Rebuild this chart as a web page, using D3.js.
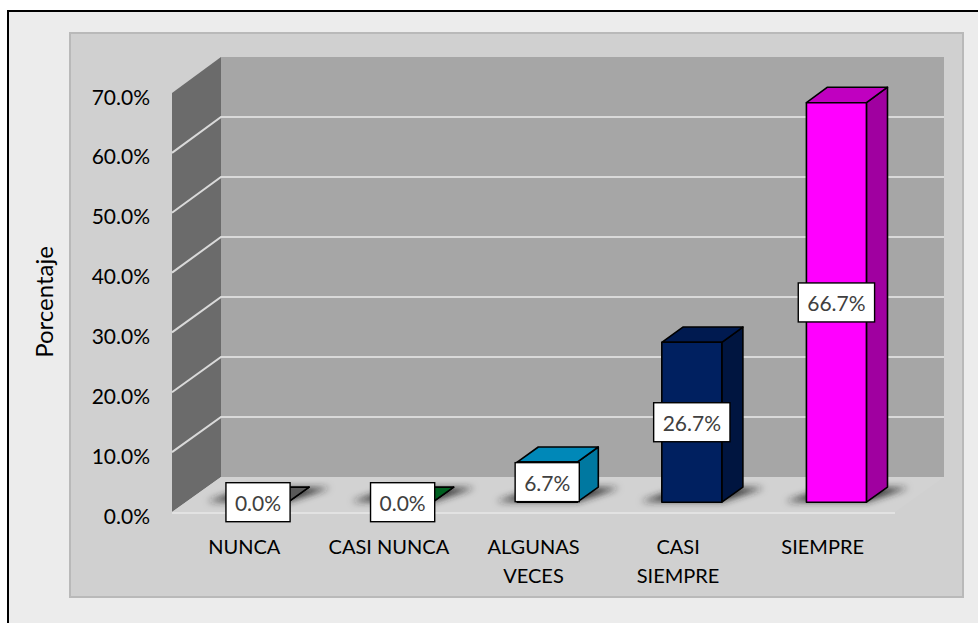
<!DOCTYPE html>
<html>
<head>
<meta charset="utf-8">
<script src="https://cdn.jsdelivr.net/npm/d3@7/dist/d3.min.js"></script>
<style>
  html, body { margin: 0; padding: 0; background: #ffffff; }
  svg { display: block; }
  text { font-family: Lato, "Noto Sans", sans-serif; }
</style>
</head>
<body>
<script>
// Survey response shares, percent of respondents
const categories = ["NUNCA", "CASI NUNCA", "ALGUNAS VECES", "CASI SIEMPRE", "SIEMPRE"];
const categoryLines = [["NUNCA"], ["CASI NUNCA"], ["ALGUNAS", "VECES"], ["CASI", "SIEMPRE"], ["SIEMPRE"]];
const values = [0.0, 0.0, 6.7, 26.7, 66.7];
const yTicks = [0, 10, 20, 30, 40, 50, 60, 70];
const axisTitle = "Porcentaje";

// Face colours of each 3D column: front, right side, top
const frontColors = ["#7f7f7f", "#00802b", "#0099cc", "#002060", "#ff00ff"];
const sideColors  = ["#4d4d4d", "#004d1a", "#0078a0", "#001540", "#a000a0"];
const topColors   = ["#595959", "#006020", "#0088b8", "#001a50", "#c000c0"];

const W = 978, H = 623;
const svg = d3.select("body").append("svg").attr("width", W).attr("height", H);

// Outer chart frame and plot area
svg.append("rect").attr("x", 8).attr("y", 11).attr("width", 1000).attr("height", 700)
  .attr("fill", "#ececec").attr("stroke", "#000").attr("stroke-width", 2);
svg.append("rect").attr("x", 70).attr("y", 33).attr("width", 893).attr("height", 564)
  .attr("fill", "#d0d0d0").attr("stroke", "#b9b9b9").attr("stroke-width", 2);

// 3D geometry: the front plane, plus the offset to the back wall
const X0 = 172, X1 = 895, DX = 49;
const x = d3.scaleBand().domain(categories).range([X0, X1]).paddingInner(0).paddingOuter(0);
const yFront = d3.scaleLinear().domain([0, 70]).range([512, 93]);
const yBack  = d3.scaleLinear().domain([0, 70]).range([477, 57]);
// point at horizontal front-plane position px, value v, depth fraction f (0 front, 1 back)
const P = (px, v, f) => [px + f * DX, yFront(v) * (1 - f) + yBack(v) * f];
const poly = pts => pts.map(p => p.join(",")).join(" ");

const yMax = yTicks[yTicks.length - 1];

// Back wall
svg.append("polygon")
  .attr("points", poly([P(X0, 0, 1), P(X1, 0, 1), P(X1, yMax, 1), P(X0, yMax, 1)]))
  .attr("fill", "#a6a6a6");
// Left side wall
svg.append("polygon")
  .attr("points", poly([P(X0, 0, 0), P(X0, 0, 1), P(X0, yMax, 1), P(X0, yMax, 0)]))
  .attr("fill", "#6b6b6b");
// Floor
svg.append("polygon")
  .attr("points", poly([P(X0, 0, 0), P(X1, 0, 0), P(X1, 0, 1), P(X0, 0, 1)]))
  .attr("fill", "#d2d2d2");
svg.append("line")
  .attr("x1", X0).attr("x2", X1).attr("y1", yFront(0) + 1).attr("y2", yFront(0) + 1)
  .attr("stroke", "#e2e2e2").attr("stroke-width", 2);

// Gridlines on the back and left walls
const grid = svg.append("g").attr("stroke", "#d9d9d9").attr("stroke-width", 2).attr("fill", "none");
yTicks.filter(t => t > 0 && t < yMax).forEach(t => {
  const a = P(X0, t, 0), b = P(X0, t, 1), c = P(X1, t, 1);
  grid.append("polyline").attr("points", poly([a, b, c]));
});

// Y axis tick labels
svg.append("g").selectAll("text").data(yTicks).join("text")
  .attr("x", 150).attr("y", d => yFront(d) + 3)
  .attr("text-anchor", "end").attr("dominant-baseline", "central")
  .attr("font-size", 21).attr("fill", "#000")
  .text(d => d3.format(".1f")(d) + "%");

// Axis title
svg.append("text")
  .attr("transform", "translate(43,302) rotate(-90)")
  .attr("text-anchor", "middle").attr("dominant-baseline", "central")
  .attr("font-size", 24).attr("fill", "#000")
  .text(axisTitle);

// Category labels on the front plane
const catG = svg.append("g");
categories.forEach((c, i) => {
  const t = catG.append("text")
    .attr("x", x(c) + x.bandwidth() / 2).attr("y", 546)
    .attr("text-anchor", "middle").attr("dominant-baseline", "central")
    .attr("font-size", 20).attr("fill", "#000");
  categoryLines[i].forEach((ln, k) => {
    t.append("tspan").attr("x", x(c) + x.bandwidth() / 2).attr("dy", k === 0 ? 0 : 29).text(ln);
  });
});

// Column placement inside each category slot
const F1 = 0.28, F2 = 0.71, faceW = 60;

// Soft floor shadows
const defs = svg.append("defs");
defs.append("filter").attr("id", "shadowBlur").attr("x", "-50%").attr("y", "-200%")
  .attr("width", "200%").attr("height", "500%")
  .append("feGaussianBlur").attr("stdDeviation", 3.5);

const shadowG = svg.append("g").attr("filter", "url(#shadowBlur)");
categories.forEach(c => {
  const cx = x(c) + x.bandwidth() / 2;
  const l = cx - faceW / 2, r = cx + faceW / 2;
  shadowG.append("polygon")
    .attr("points", poly([P(l - 22, 0, F1 + 0.02), P(r, 0, F1 + 0.02), P(r + 22, 0, F2 - 0.02), P(l, 0, F2 - 0.02)]))
    .attr("fill", "#222").attr("opacity", 0.9);
});

// Columns
const barG = svg.append("g").attr("stroke", "#000").attr("stroke-width", 1.6).attr("stroke-linejoin", "round");
categories.forEach((c, i) => {
  const v = values[i];
  const cx = x(c) + x.bandwidth() / 2;
  const l = cx - faceW / 2, r = cx + faceW / 2;
  // right side
  barG.append("polygon")
    .attr("points", poly([P(r, 0, F1), P(r, 0, F2), P(r, v, F2), P(r, v, F1)]))
    .attr("fill", sideColors[i]);
  // top
  barG.append("polygon")
    .attr("points", poly([P(l, v, F1), P(r, v, F1), P(r, v, F2), P(l, v, F2)]))
    .attr("fill", topColors[i]);
  // front
  if (v > 0) {
    barG.append("polygon")
      .attr("points", poly([P(l, 0, F1), P(r, 0, F1), P(r, v, F1), P(l, v, F1)]))
      .attr("fill", frontColors[i]);
  }
});

// Value labels in white boxes at the middle of each column's front face
const labG = svg.append("g");
categories.forEach((c, i) => {
  const v = values[i];
  const cx = x(c) + x.bandwidth() / 2;
  const [px] = P(cx, 0, F1);
  const yMid = (P(cx, 0, F1)[1] + P(cx, v, F1)[1]) / 2;
  const g = labG.append("g");
  const rect = g.append("rect").attr("fill", "#fff").attr("stroke", "#000").attr("stroke-width", 1.4);
  const t = g.append("text")
    .attr("x", px).attr("y", yMid)
    .attr("text-anchor", "middle").attr("dominant-baseline", "central")
    .attr("font-size", 21).attr("fill", "#404040")
    .text(d3.format(".1f")(v) + "%");
  const tw = t.node().getComputedTextLength();
  rect.attr("x", px - tw / 2 - 9).attr("y", yMid - 19.5)
    .attr("width", tw + 18).attr("height", 39);
});
</script>
</body>
</html>
